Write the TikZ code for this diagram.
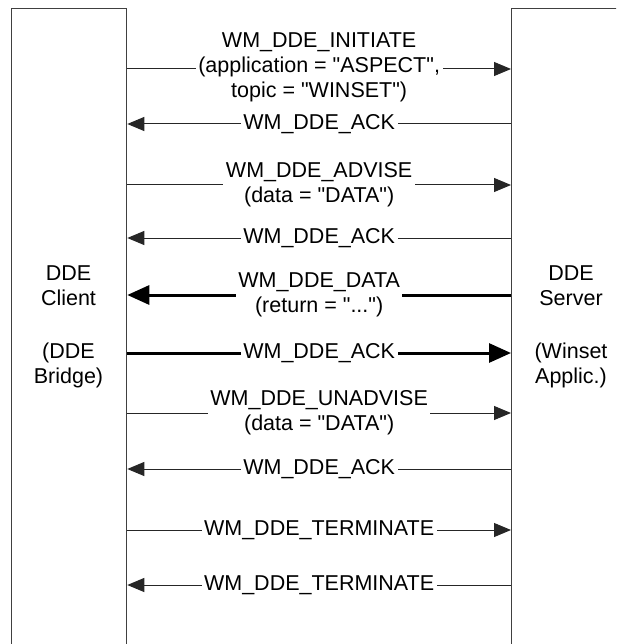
\documentclass[tikz,border=0pt]{standalone}
\usepackage{fontspec}
\setmainfont{Liberation Sans}[Ligatures=TeXOff]
\usetikzlibrary{arrows.meta}
\tikzset{
  lifebox/.style={draw=black!75, line width=1.3pt, minimum width=115pt, minimum height=680pt, anchor=north west, inner sep=0pt},
  boxlabel/.style={align=center, inner sep=0pt, font=\fontsize{21.5}{25}\selectfont},
  msg/.style={fill=white, align=center, inner sep=2.5pt, font=\fontsize{21.5}{25}\selectfont},
  thinmsg/.style={draw=black!85, line width=1pt, -{Triangle[length=17pt,width=14pt]}},
  boldmsg/.style={draw=black, line width=3pt, -{Triangle[length=22pt,width=19pt]}},
}
\begin{document}
\begin{tikzpicture}[x=1pt,y=-1pt]
\useasboundingbox (0,0) rectangle (616,644);
\clip (0,0) rectangle (616,644);
\fill[white] (0,0) rectangle (616,644);
\node[lifebox] (client) at (11,8) {};
\node[lifebox, minimum width=118pt] (server) at (511,8) {};
\node[boxlabel] (clientlbl) at (68.5,327) {DDE\\Client\\[28pt](DDE\\Bridge)};
\node[boxlabel] (serverlbl) at (571,327) {DDE\\Server\\[28pt](Winset\\Applic.)};
% messages
\draw[thinmsg] (client.east |- 0,69) -- node[msg, yshift=2pt] (m1) {WM\_DDE\_INITIATE\\(application = "ASPECT",\\topic = "WINSET")} (server.west |- 0,69);
\draw[thinmsg] (server.west |- 0,124) -- node[msg] (m2) {WM\_DDE\_ACK} (client.east |- 0,124);
\draw[thinmsg] (client.east |- 0,185) -- node[msg] (m3) {WM\_DDE\_ADVISE\\(data = "DATA")} (server.west |- 0,185);
\draw[thinmsg] (server.west |- 0,238) -- node[msg] (m4) {WM\_DDE\_ACK} (client.east |- 0,238);
\draw[boldmsg] (server.west |- 0,295) -- node[msg] (m5) {WM\_DDE\_DATA\\(return = "...")} (client.east |- 0,295);
\draw[boldmsg] (client.east |- 0,353) -- node[msg] (m6) {WM\_DDE\_ACK} (server.west |- 0,353);
\draw[thinmsg] (client.east |- 0,413) -- node[msg] (m7) {WM\_DDE\_UNADVISE\\(data = "DATA")} (server.west |- 0,413);
\draw[thinmsg] (server.west |- 0,469) -- node[msg] (m8) {WM\_DDE\_ACK} (client.east |- 0,469);
\draw[thinmsg] (client.east |- 0,530) -- node[msg] (m9) {WM\_DDE\_TERMINATE} (server.west |- 0,530);
\draw[thinmsg] (server.west |- 0,585) -- node[msg] (m10) {WM\_DDE\_TERMINATE} (client.east |- 0,585);
\end{tikzpicture}
\end{document}
